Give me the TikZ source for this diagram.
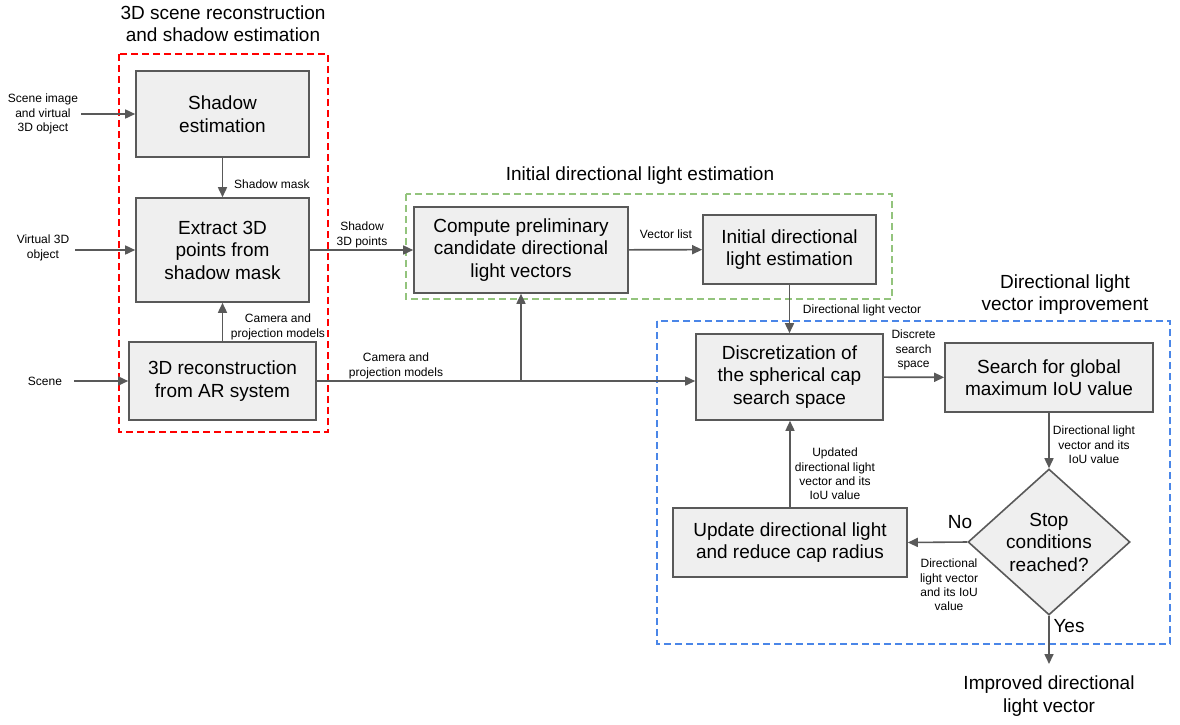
\documentclass[tikz,border=0pt]{standalone}
\usepackage{fontspec}
\setmainfont{Liberation Sans}
\usetikzlibrary{arrows.meta,positioning,shapes.geometric}
\definecolor{LineGrey}{HTML}{595959}
\definecolor{BoxGrey}{HTML}{EFEFEF}
\definecolor{GroupRed}{HTML}{FF0000}
\definecolor{GroupGreen}{HTML}{93C47D}
\definecolor{GroupBlue}{HTML}{4A86E8}

\begin{document}
\begin{tikzpicture}[
  x=1pt,y=-1pt,
  every node/.style={font=\fontsize{19}{22.5}\selectfont,align=center,inner sep=0pt},
  box/.style={draw=LineGrey,fill=BoxGrey,line width=1.6pt},
  decision/.style={diamond,draw=LineGrey,fill=BoxGrey,line width=1.6pt,
    minimum width=162pt,minimum height=146pt},
  flow/.style={-{Triangle[length=10pt,width=9pt]},line width=1.6pt,draw=LineGrey},
  lbl/.style={font=\fontsize{12}{14.4}\selectfont},
  group/.style={line width=1.6pt,dash pattern=on 7pt off 4pt}
]
  \useasboundingbox (0,0) rectangle (1180,724);

  % Groups and their titles.
  \draw[group,GroupRed] (119,54) rectangle (328,432);
  \node (ttlscene) at (223,23.5) {3D scene reconstruction\\and shadow estimation};
  \draw[group,GroupGreen] (406,194) rectangle (892,299);
  \node (ttlinit) at (640,176) {Initial directional light estimation};
  \draw[group,GroupBlue] (657,321) rectangle (1170,644);
  \node (ttlimpr) at (1065,294.5) {Directional light\\vector improvement};

  % Process boxes.
  \node[box,minimum width=173pt,minimum height=86pt] (shadow) at (222.5,114)
    {Shadow\\estimation};
  \node[box,minimum width=173pt,minimum height=104pt] (extract) at (222.5,250)
    {Extract 3D\\points from\\shadow mask};
  \node[box,minimum width=187pt,minimum height=78pt] (recon) at (222.5,381)
    {3D reconstruction\\from AR system};
  \node[box,minimum width=214pt,minimum height=86pt] (compute) at (521,250)
    {Compute preliminary\\candidate directional\\light vectors};
  \node[box,minimum width=173pt,minimum height=69pt] (initial) at (789.5,249.5)
    {Initial directional\\light estimation};
  \node[box,minimum width=187pt,minimum height=86pt] (disc) at (789.5,377)
    {Discretization of\\the spherical cap\\search space};
  \node[box,minimum width=208pt,minimum height=69pt] (search) at (1049,377.5)
    {Search for global\\maximum IoU value};
  \node[box,minimum width=234pt,minimum height=69pt] (update) at (790,542.5)
    {Update directional light\\and reduce cap radius};
  \node[decision] (stop) at (1049,542) {Stop\\conditions\\reached?};

  % Inputs on the left.
  \node[lbl,inner sep=3pt] (inimage) at (43,114) {Scene image\\and virtual\\3D object};
  \node[lbl,inner sep=6pt] (invirtual) at (43,248) {Virtual 3D\\object};
  \node[lbl,inner sep=12pt] (inscene) at (45,381) {Scene};
  \draw[flow] (inimage.east) -- (shadow.west);
  \draw[flow] (invirtual.east |- extract.west) -- (extract.west);
  \draw[flow] (inscene.east) -- (recon.west);

  % Connectors inside the first group.
  \draw[flow] (shadow) -- (extract);
  \node[lbl,anchor=west] (lmask) at (234,184) {Shadow mask};
  \draw[flow] (recon) -- (extract);
  \node[lbl] (lcam) at (278,327) {Camera and\\projection models};

  % Towards the initial estimation.
  \draw[flow] (extract) -- (compute);
  \node[lbl] (lpoints) at (362,235) {Shadow\\3D points};
  \draw[flow] (compute) -- (initial);
  \node[lbl] (lvlist) at (666,234) {Vector list};
  \coordinate (split) at (compute.south |- recon.east);
  \draw[flow] (recon.east) -- (recon.east -| disc.west);
  \draw[flow] (split) -- (compute.south);
  \node[lbl] (lcammain) at (396,366) {Camera and\\projection models};
  \draw[flow] (initial.south) -- (initial.south |- disc.north);
  \node[lbl] (ldir) at (862,310) {Directional light vector};

  % Improvement loop.
  \draw[flow] (disc) -- (search);
  \node[lbl] (ldiscrete) at (913.5,350) {Discrete\\search\\space};
  \draw[flow] (search) -- (stop);
  \node[lbl] (lbest) at (1094,445) {Directional light\\vector and its\\IoU value};
  \draw[flow] (stop.west) -- (update.east);
  \node (lno) at (960,522) {No};
  \node[lbl] (lcurrent) at (949,585) {Directional\\light vector\\and its IoU\\value};
  \draw[flow] (update.north) -- (update.north |- disc.south);
  \node[lbl] (lupdated) at (835,474) {Updated\\directional light\\vector and its\\IoU value};
  \coordinate (out) at (1049,664);
  \draw[flow] (stop.south) -- (out);
  \node (lyes) at (1069,626) {Yes};
  \node (result) at (1049,696) {Improved directional\\light vector};
\end{tikzpicture}
\end{document}
